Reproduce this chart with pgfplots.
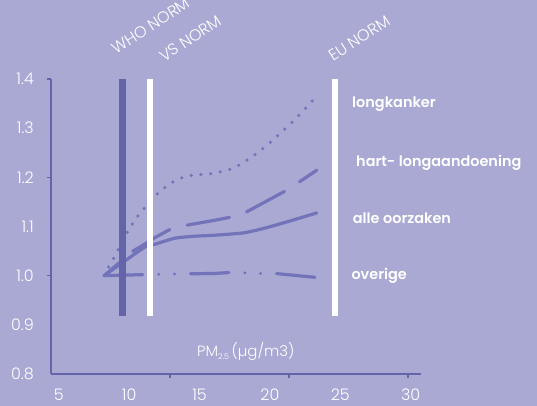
\documentclass[border=0pt]{standalone}
\usepackage{graphicx}
\usepackage{pgfplots}
\pgfplotsset{compat=1.18}
\usepackage{fontspec}
\setmainfont{Poppins}[UprightFont={* Light}, BoldFont={* SemiBold}]
\definecolor{bgc}{HTML}{A9A9D4}
\definecolor{axc}{HTML}{6464A8}
\definecolor{crv}{HTML}{7373BA}
\begin{document}
\begin{tikzpicture}
\useasboundingbox (0,0) rectangle (537bp,406bp);
\fill[bgc] (0,0) rectangle (537bp,406bp);
\begin{axis}[
  at={(51bp,32bp)}, anchor=south west,
  scale only axis, width=370bp, height=295bp,
  xmin=4.446, xmax=30.74, ymin=0.8, ymax=1.4,
  axis x line=bottom, axis y line=left,
  axis line style={-, axc, line width=2bp},
  xtick={5,10,15,20,25,30}, xticklabels={5,10,15,20,25,30},
  ytick={0.8,0.9,1.0,1.1,1.2,1.3,1.4}, yticklabels={0.8,0.9,1.0,1.1,1.2,1.3,1.4},
  major tick length=0pt,
  tick label style={font=\fontsize{16}{16}\selectfont, text=white, inner sep=0pt},
  xticklabel style={anchor=north, yshift=-15bp},
  yticklabel style={anchor=east, xshift=-17bp},
  extra x ticks={12.90,21.36,29.82},
  extra y ticks={1.0,1.2,1.4},
  extra x tick labels={}, extra y tick labels={},
  extra tick style={major tick length=4bp, tick align=outside, tick style={axc, line width=1.2bp}},
  clip=false,
]
% longkanker (dotted)
\addplot[crv, line width=3.5bp, line cap=round, dash pattern=on 0bp off 9.8bp] coordinates {
(8.23,1.0) (8.57,1.0193) (8.92,1.0362) (9.23,1.0539) (9.87,1.0884) (10.22,1.1047)
(10.61,1.1209) (11.06,1.1366) (11.96,1.1657) (12.48,1.1778) (13.02,1.1894)
(13.66,1.1982) (14.32,1.2037) (14.99,1.2057) (15.70,1.2069) (16.34,1.2104)
(16.98,1.2144) (17.64,1.2220) (18.23,1.2321) (18.78,1.2429) (19.32,1.2545)
(19.87,1.2673) (20.39,1.2801) (20.88,1.2931) (21.38,1.3065) (21.88,1.3207)
(22.36,1.3350) (22.90,1.3520) (23.05,1.3570)};
% hart- longaandoening (dashed)
\addplot[crv, line width=3.2bp, line cap=round, dash pattern=on 43bp off 18bp, dash phase=23.5bp] coordinates {
(8.23,1.0) (10.18,1.0484) (11.25,1.0667) (11.84,1.0776) (13.02,1.0959)
(14.09,1.1026) (16.10,1.1128) (17.29,1.1195) (18.30,1.1290) (21.20,1.1738)
(22.09,1.1907) (23.33,1.2144)};
% alle oorzaken (solid)
\addplot[crv, line width=3.2bp, line cap=round, smooth, tension=0.4] coordinates {
(8.23,1.0) (11.13,1.0585) (11.84,1.0640) (13.26,1.0762) (14.68,1.0803)
(16.10,1.0823) (18.11,1.0870) (19.53,1.0959) (21.20,1.1093) (23.33,1.1276)};
% overige (dash-dot-dot)
\addplot[crv, line width=3.2bp, line cap=round, dash pattern=on 38.5bp off 16bp on 0bp off 15.7bp on 0bp off 16bp] coordinates {
(8.23,1.0) (12.19,1.003) (16.10,1.0045) (17.17,1.0065) (19.30,1.0045)
(20.37,1.0045) (23.33,0.9963)};
% norm lines
\addplot[axc, line width=7bp] coordinates {(9.527,0.9177) (9.527,1.4)};
\addplot[white, line width=6.5bp] coordinates {(11.48,0.9177) (11.48,1.4)};
\addplot[white, line width=6.5bp] coordinates {(24.63,0.9177) (24.63,1.4)};
\end{axis}
\begin{scope}[every node/.style={text=white, inner sep=0pt}]
\node[anchor=base west, font=\bfseries\fontsize{14.5}{14.5}\selectfont] at (352bp,298.7bp) {longkanker};
\node[anchor=base west, font=\bfseries\fontsize{14.5}{14.5}\selectfont] at (356bp,239.3bp) {hart- longaandoening};
\node[anchor=base west, font=\bfseries\fontsize{14.5}{14.5}\selectfont] at (352.7bp,182.7bp) {alle oorzaken};
\node[anchor=base west, font=\bfseries\fontsize{14.5}{14.5}\selectfont] at (351.3bp,126bp) {overige};
\node[anchor=base west, font=\fontsize{15}{15}\selectfont] at (197bp,49.3bp) {PM\raisebox{-2.5bp}{\fontsize{8}{8}\selectfont 2.5}\,(µg/m3)};
\node[anchor=south west, font=\fontsize{16}{16}\selectfont] at (110bp,351bp) {\rotatebox{33}{WHO NORM}};
\node[anchor=south west, font=\fontsize{16}{16}\selectfont] at (157.8bp,343.5bp) {\rotatebox{33}{VS NORM}};
\node[anchor=south west, font=\fontsize{16}{16}\selectfont] at (327bp,344bp) {\rotatebox{33}{EU NORM}};
\end{scope}
\end{tikzpicture}
\end{document}
